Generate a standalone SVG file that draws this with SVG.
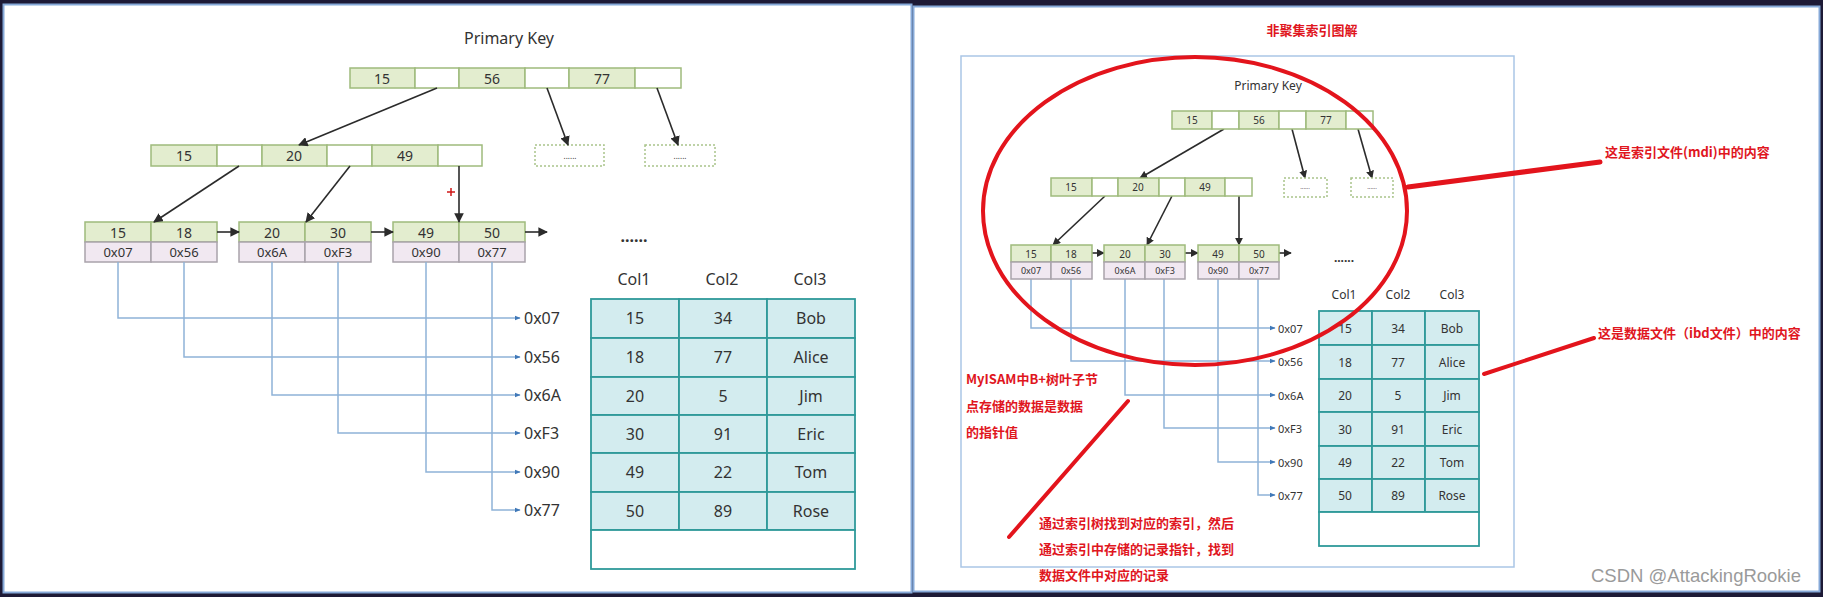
<svg xmlns="http://www.w3.org/2000/svg" width="1823" height="597" viewBox="0 0 1823 597">
<defs>
<marker id="ah" viewBox="0 0 10 10" refX="9" refY="5" markerWidth="6" markerHeight="6" orient="auto"><path d="M0,0 L10,5 L0,10 z" fill="#2b2b2b"/></marker>
<marker id="ahs" viewBox="0 0 10 10" refX="9" refY="5" markerWidth="5" markerHeight="5" orient="auto"><path d="M0,0 L10,5 L0,10 z" fill="#2b2b2b"/></marker>
<marker id="bh" viewBox="0 0 10 10" refX="9" refY="5" markerWidth="4" markerHeight="4" orient="auto"><path d="M0,1 L10,5 L0,9 z" fill="#3f78b8"/></marker>
</defs>
<style>
.k{fill:#e3edcf;stroke:#9fbb7c;stroke-width:1.5}
.p{fill:#ffffff;stroke:#9fbb7c;stroke-width:1.5}
.a{fill:#f1e8f1;stroke:#a9a3ab;stroke-width:1.5}
.d{fill:#ffffff;stroke:#a9c48a;stroke-width:1.5;stroke-dasharray:2 2}
.t{font-family:"Noto Sans","DejaVu Sans",sans-serif;fill:#333;text-anchor:middle;dominant-baseline:central}
.lab{font-family:"Noto Sans","DejaVu Sans",sans-serif;fill:#333;dominant-baseline:central}
.cell{fill:#d3ecef;stroke:#2f9a9a;stroke-width:1.8}
.blank{fill:#ffffff;stroke:#2f9a9a;stroke-width:1.8}
.arr{stroke:#2b2b2b;stroke-width:1.6;fill:none}
.bl{stroke:#8fb3d8;stroke-width:1.5;fill:none}
.red{font-family:"Noto Sans CJK SC","Noto Sans",sans-serif;fill:#e0161e;font-weight:bold}
.rl{stroke:#e3141c;stroke-linecap:round;fill:none}
</style>
<rect x="0" y="0" width="1823" height="597" fill="#1d1a36"/>
<rect x="3.5" y="4.5" width="908" height="588" fill="#ffffff" stroke="#86a9d8" stroke-width="2"/>
<rect x="913.5" y="6.5" width="906" height="585" fill="#ffffff" stroke="#86a9d8" stroke-width="2"/>

<!-- LEFT PANEL -->
<g id="left-title"><text class="t" x="509" y="38" font-size="16">Primary Key</text></g>
<g id="left-root">
<rect class="k" x="350" y="68" width="65" height="20"/><rect class="p" x="415" y="68" width="44" height="20"/>
<rect class="k" x="459" y="68" width="66" height="20"/><rect class="p" x="525" y="68" width="44" height="20"/>
<rect class="k" x="569" y="68" width="66" height="20"/><rect class="p" x="635" y="68" width="46" height="20"/>
<text class="t" x="382" y="78" font-size="14">15</text><text class="t" x="492" y="78" font-size="14">56</text><text class="t" x="602" y="78" font-size="14">77</text>
</g>
<g id="left-l2">
<rect class="k" x="151" y="145" width="66" height="21"/><rect class="p" x="217" y="145" width="45" height="21"/>
<rect class="k" x="262" y="145" width="65" height="21"/><rect class="p" x="327" y="145" width="45" height="21"/>
<rect class="k" x="372" y="145" width="66" height="21"/><rect class="p" x="438" y="145" width="44" height="21"/>
<text class="t" x="184" y="155.5" font-size="14">15</text><text class="t" x="294" y="155.5" font-size="14">20</text><text class="t" x="405" y="155.5" font-size="14">49</text>
</g>
<g id="left-dash1"><rect class="d" x="535" y="145" width="69" height="21"/><text class="t" x="570" y="155" font-size="8" fill="#999">......</text></g>
<g id="left-dash2"><rect class="d" x="645" y="145" width="70" height="21"/><text class="t" x="680" y="155" font-size="8" fill="#999">......</text></g>
<g id="left-leaf1">
<rect class="k" x="85" y="222" width="66" height="20"/><rect class="k" x="151" y="222" width="66" height="20"/>
<rect class="a" x="85" y="242" width="66" height="20"/><rect class="a" x="151" y="242" width="66" height="20"/>
<text class="t" x="118" y="232" font-size="14">15</text><text class="t" x="184" y="232" font-size="14">18</text>
<text class="t" x="118" y="252" font-size="13">0x07</text><text class="t" x="184" y="252" font-size="13">0x56</text>
</g>
<g id="left-leaf2">
<rect class="k" x="239" y="222" width="66" height="20"/><rect class="k" x="305" y="222" width="66" height="20"/>
<rect class="a" x="239" y="242" width="66" height="20"/><rect class="a" x="305" y="242" width="66" height="20"/>
<text class="t" x="272" y="232" font-size="14">20</text><text class="t" x="338" y="232" font-size="14">30</text>
<text class="t" x="272" y="252" font-size="13">0x6A</text><text class="t" x="338" y="252" font-size="13">0xF3</text>
</g>
<g id="left-leaf3">
<rect class="k" x="393" y="222" width="66" height="20"/><rect class="k" x="459" y="222" width="66" height="20"/>
<rect class="a" x="393" y="242" width="66" height="20"/><rect class="a" x="459" y="242" width="66" height="20"/>
<text class="t" x="426" y="232" font-size="14">49</text><text class="t" x="492" y="232" font-size="14">50</text>
<text class="t" x="426" y="252" font-size="13">0x90</text><text class="t" x="492" y="252" font-size="13">0x77</text>
</g>
<g id="left-more"><text class="t" x="634" y="236" font-size="16" font-weight="bold">......</text></g>
<g id="left-table">
<text class="t" x="634" y="279" font-size="16">Col1</text><text class="t" x="722" y="279" font-size="16">Col2</text><text class="t" x="810" y="279" font-size="16">Col3</text>
<rect class="cell" x="591" y="299" width="88" height="39"/><rect class="cell" x="679" y="299" width="88" height="39"/><rect class="cell" x="767" y="299" width="88" height="39"/>
<rect class="cell" x="591" y="338" width="88" height="39"/><rect class="cell" x="679" y="338" width="88" height="39"/><rect class="cell" x="767" y="338" width="88" height="39"/>
<rect class="cell" x="591" y="377" width="88" height="38"/><rect class="cell" x="679" y="377" width="88" height="38"/><rect class="cell" x="767" y="377" width="88" height="38"/>
<rect class="cell" x="591" y="415" width="88" height="38"/><rect class="cell" x="679" y="415" width="88" height="38"/><rect class="cell" x="767" y="415" width="88" height="38"/>
<rect class="cell" x="591" y="453" width="88" height="39"/><rect class="cell" x="679" y="453" width="88" height="39"/><rect class="cell" x="767" y="453" width="88" height="39"/>
<rect class="cell" x="591" y="492" width="88" height="38"/><rect class="cell" x="679" y="492" width="88" height="38"/><rect class="cell" x="767" y="492" width="88" height="38"/>
<rect class="blank" x="591" y="530" width="264" height="39"/>
<text class="t" x="635" y="318" font-size="16">15</text><text class="t" x="723" y="318" font-size="16">34</text><text class="t" x="811" y="318" font-size="16">Bob</text>
<text class="t" x="635" y="357" font-size="16">18</text><text class="t" x="723" y="357" font-size="16">77</text><text class="t" x="811" y="357" font-size="16">Alice</text>
<text class="t" x="635" y="396" font-size="16">20</text><text class="t" x="723" y="396" font-size="16">5</text><text class="t" x="811" y="396" font-size="16">Jim</text>
<text class="t" x="635" y="434" font-size="16">30</text><text class="t" x="723" y="434" font-size="16">91</text><text class="t" x="811" y="434" font-size="16">Eric</text>
<text class="t" x="635" y="472" font-size="16">49</text><text class="t" x="723" y="472" font-size="16">22</text><text class="t" x="811" y="472" font-size="16">Tom</text>
<text class="t" x="635" y="511" font-size="16">50</text><text class="t" x="723" y="511" font-size="16">89</text><text class="t" x="811" y="511" font-size="16">Rose</text>
</g>
<g id="left-addr-labels">
<text class="lab" x="524" y="318" font-size="16">0x07</text><text class="lab" x="524" y="357" font-size="16">0x56</text>
<text class="lab" x="524" y="395" font-size="16">0x6A</text><text class="lab" x="524" y="433" font-size="16">0xF3</text>
<text class="lab" x="524" y="472" font-size="16">0x90</text><text class="lab" x="524" y="510" font-size="16">0x77</text>
</g>
<g id="left-plus"><path d="M447,192 H455 M451,188 V196" stroke="#d01818" stroke-width="1.5"/></g>

<g id="connectors">
<line class="arr" x1="437" y1="88" x2="299" y2="145" marker-end="url(#ah)"/>
<line class="arr" x1="547" y1="88" x2="568" y2="145" marker-end="url(#ah)"/>
<line class="arr" x1="657" y1="88" x2="678" y2="145" marker-end="url(#ah)"/>
<line class="arr" x1="239" y1="166" x2="154" y2="222" marker-end="url(#ah)"/>
<line class="arr" x1="350" y1="166" x2="306" y2="222" marker-end="url(#ah)"/>
<line class="arr" x1="459" y1="166" x2="459" y2="222" marker-end="url(#ah)"/>
<line class="arr" x1="217" y1="232" x2="239" y2="232" marker-end="url(#ah)"/>
<line class="arr" x1="371" y1="232" x2="393" y2="232" marker-end="url(#ah)"/>
<line class="arr" x1="525" y1="232" x2="547" y2="232" marker-end="url(#ah)"/>
<path class="bl" d="M118,262 V318 H520" marker-end="url(#bh)"/>
<path class="bl" d="M184,262 V357 H520" marker-end="url(#bh)"/>
<path class="bl" d="M272,262 V395 H520" marker-end="url(#bh)"/>
<path class="bl" d="M338,262 V433 H520" marker-end="url(#bh)"/>
<path class="bl" d="M426,262 V472 H520" marker-end="url(#bh)"/>
<path class="bl" d="M492,262 V510 H520" marker-end="url(#bh)"/>

<line class="arr" x1="1224" y1="129" x2="1140" y2="178" stroke-width="1.2" marker-end="url(#ahs)"/>
<line class="arr" x1="1292" y1="129" x2="1305" y2="178" stroke-width="1.2" marker-end="url(#ahs)"/>
<line class="arr" x1="1358" y1="129" x2="1372" y2="178" stroke-width="1.2" marker-end="url(#ahs)"/>
<line class="arr" x1="1105" y1="196" x2="1053" y2="245" stroke-width="1.2" marker-end="url(#ahs)"/>
<line class="arr" x1="1172" y1="196" x2="1147" y2="245" stroke-width="1.2" marker-end="url(#ahs)"/>
<line class="arr" x1="1239" y1="196" x2="1239" y2="245" stroke-width="1.2" marker-end="url(#ahs)"/>
<line class="arr" x1="1092" y1="253" x2="1104" y2="253" stroke-width="1.2" marker-end="url(#ahs)"/>
<line class="arr" x1="1185" y1="253" x2="1198" y2="253" stroke-width="1.2" marker-end="url(#ahs)"/>
<line class="arr" x1="1279" y1="253" x2="1291" y2="253" stroke-width="1.2" marker-end="url(#ahs)"/>
<path class="bl" d="M1031,279 V328 H1275" stroke-width="1.2" marker-end="url(#bh)"/>
<path class="bl" d="M1071,279 V361 H1275" stroke-width="1.2" marker-end="url(#bh)"/>
<path class="bl" d="M1125,279 V395 H1275" stroke-width="1.2" marker-end="url(#bh)"/>
<path class="bl" d="M1164,279 V428 H1275" stroke-width="1.2" marker-end="url(#bh)"/>
<path class="bl" d="M1218,279 V462 H1275" stroke-width="1.2" marker-end="url(#bh)"/>
<path class="bl" d="M1258,279 V495 H1275" stroke-width="1.2" marker-end="url(#bh)"/>
</g>

<!-- RIGHT PANEL -->
<g id="right-title"><text class="red" x="1312" y="35" font-size="13" text-anchor="middle">非聚集索引图解</text></g>
<g id="right-frame"><rect x="961" y="56" width="553" height="511" fill="none" stroke="#aac6e6" stroke-width="1.5"/></g>
<g id="right-pk"><text class="t" x="1268" y="85" font-size="12">Primary Key</text></g>
<g id="right-root">
<rect class="k" x="1172" y="111" width="40" height="18"/><rect class="p" x="1212" y="111" width="27" height="18"/>
<rect class="k" x="1239" y="111" width="40" height="18"/><rect class="p" x="1279" y="111" width="27" height="18"/>
<rect class="k" x="1306" y="111" width="40" height="18"/><rect class="p" x="1346" y="111" width="27" height="18"/>
<text class="t" x="1192" y="120" font-size="10">15</text><text class="t" x="1259" y="120" font-size="10">56</text><text class="t" x="1326" y="120" font-size="10">77</text>
</g>
<g id="right-l2">
<rect class="k" x="1051" y="178" width="41" height="18"/><rect class="p" x="1092" y="178" width="26" height="18"/>
<rect class="k" x="1118" y="178" width="41" height="18"/><rect class="p" x="1159" y="178" width="26" height="18"/>
<rect class="k" x="1185" y="178" width="40" height="18"/><rect class="p" x="1225" y="178" width="27" height="18"/>
<text class="t" x="1071" y="187" font-size="10">15</text><text class="t" x="1138" y="187" font-size="10">20</text><text class="t" x="1205" y="187" font-size="10">49</text>
</g>
<g id="right-dash1"><rect class="d" x="1284" y="178" width="43" height="19"/><text class="t" x="1305" y="187" font-size="6" fill="#999">......</text></g>
<g id="right-dash2"><rect class="d" x="1351" y="178" width="42" height="19"/><text class="t" x="1372" y="187" font-size="6" fill="#999">......</text></g>
<g id="right-leaf1">
<rect class="k" x="1011" y="245" width="40" height="17"/><rect class="k" x="1051" y="245" width="41" height="17"/>
<rect class="a" x="1011" y="262" width="40" height="17"/><rect class="a" x="1051" y="262" width="41" height="17"/>
<text class="t" x="1031" y="253.5" font-size="10">15</text><text class="t" x="1071" y="253.5" font-size="10">18</text>
<text class="t" x="1031" y="270.5" font-size="9">0x07</text><text class="t" x="1071" y="270.5" font-size="9">0x56</text>
</g>
<g id="right-leaf2">
<rect class="k" x="1104" y="245" width="41" height="17"/><rect class="k" x="1145" y="245" width="40" height="17"/>
<rect class="a" x="1104" y="262" width="41" height="17"/><rect class="a" x="1145" y="262" width="40" height="17"/>
<text class="t" x="1125" y="253.5" font-size="10">20</text><text class="t" x="1165" y="253.5" font-size="10">30</text>
<text class="t" x="1125" y="270.5" font-size="9">0x6A</text><text class="t" x="1165" y="270.5" font-size="9">0xF3</text>
</g>
<g id="right-leaf3">
<rect class="k" x="1198" y="245" width="41" height="17"/><rect class="k" x="1239" y="245" width="40" height="17"/>
<rect class="a" x="1198" y="262" width="41" height="17"/><rect class="a" x="1239" y="262" width="40" height="17"/>
<text class="t" x="1218" y="253.5" font-size="10">49</text><text class="t" x="1259" y="253.5" font-size="10">50</text>
<text class="t" x="1218" y="270.5" font-size="9">0x90</text><text class="t" x="1259" y="270.5" font-size="9">0x77</text>
</g>
<g id="right-more"><text class="t" x="1344" y="257" font-size="12" font-weight="bold">......</text></g>
<g id="right-table">
<text class="t" x="1344" y="294" font-size="12">Col1</text><text class="t" x="1398" y="294" font-size="12">Col2</text><text class="t" x="1452" y="294" font-size="12">Col3</text>
<rect class="cell" x="1319" y="311" width="53" height="34" stroke-width="1.4"/><rect class="cell" x="1372" y="311" width="53" height="34" stroke-width="1.4"/><rect class="cell" x="1425" y="311" width="54" height="34" stroke-width="1.4"/>
<rect class="cell" x="1319" y="345" width="53" height="34" stroke-width="1.4"/><rect class="cell" x="1372" y="345" width="53" height="34" stroke-width="1.4"/><rect class="cell" x="1425" y="345" width="54" height="34" stroke-width="1.4"/>
<rect class="cell" x="1319" y="379" width="53" height="33" stroke-width="1.4"/><rect class="cell" x="1372" y="379" width="53" height="33" stroke-width="1.4"/><rect class="cell" x="1425" y="379" width="54" height="33" stroke-width="1.4"/>
<rect class="cell" x="1319" y="412" width="53" height="34" stroke-width="1.4"/><rect class="cell" x="1372" y="412" width="53" height="34" stroke-width="1.4"/><rect class="cell" x="1425" y="412" width="54" height="34" stroke-width="1.4"/>
<rect class="cell" x="1319" y="446" width="53" height="33" stroke-width="1.4"/><rect class="cell" x="1372" y="446" width="53" height="33" stroke-width="1.4"/><rect class="cell" x="1425" y="446" width="54" height="33" stroke-width="1.4"/>
<rect class="cell" x="1319" y="479" width="53" height="33" stroke-width="1.4"/><rect class="cell" x="1372" y="479" width="53" height="33" stroke-width="1.4"/><rect class="cell" x="1425" y="479" width="54" height="33" stroke-width="1.4"/>
<rect class="blank" x="1319" y="512" width="160" height="34" stroke-width="1.4"/>
<text class="t" x="1345" y="328" font-size="12">15</text><text class="t" x="1398" y="328" font-size="12">34</text><text class="t" x="1452" y="328" font-size="12">Bob</text>
<text class="t" x="1345" y="362" font-size="12">18</text><text class="t" x="1398" y="362" font-size="12">77</text><text class="t" x="1452" y="362" font-size="12">Alice</text>
<text class="t" x="1345" y="395" font-size="12">20</text><text class="t" x="1398" y="395" font-size="12">5</text><text class="t" x="1452" y="395" font-size="12">Jim</text>
<text class="t" x="1345" y="429" font-size="12">30</text><text class="t" x="1398" y="429" font-size="12">91</text><text class="t" x="1452" y="429" font-size="12">Eric</text>
<text class="t" x="1345" y="462" font-size="12">49</text><text class="t" x="1398" y="462" font-size="12">22</text><text class="t" x="1452" y="462" font-size="12">Tom</text>
<text class="t" x="1345" y="495" font-size="12">50</text><text class="t" x="1398" y="495" font-size="12">89</text><text class="t" x="1452" y="495" font-size="12">Rose</text>
</g>
<g id="right-addr-labels">
<text class="lab" x="1278" y="328" font-size="11">0x07</text><text class="lab" x="1278" y="361" font-size="11">0x56</text>
<text class="lab" x="1278" y="395" font-size="11">0x6A</text><text class="lab" x="1278" y="428" font-size="11">0xF3</text>
<text class="lab" x="1278" y="462" font-size="11">0x90</text><text class="lab" x="1278" y="495" font-size="11">0x77</text>
</g>

<g id="annotations">
<ellipse class="rl" cx="1195" cy="211" rx="212" ry="154" stroke-width="4"/>
<line class="rl" x1="1408" y1="187" x2="1600" y2="162" stroke-width="5"/>
<line class="rl" x1="1484" y1="374" x2="1594" y2="338" stroke-width="4"/>
<line class="rl" x1="1128" y1="401" x2="1009" y2="537" stroke-width="4"/>
<text class="red" x="1605" y="157" font-size="13">这是索引文件(mdi)中的内容</text>
<text class="red" x="1598" y="338" font-size="13">这是数据文件（ibd文件）中的内容</text>
<text class="red" x="966" y="384" font-size="13">MyISAM中B+树叶子节</text>
<text class="red" x="966" y="411" font-size="13">点存储的数据是数据</text>
<text class="red" x="966" y="437" font-size="13">的指针值</text>
<text class="red" x="1039" y="528" font-size="13">通过索引树找到对应的索引，然后</text>
<text class="red" x="1039" y="554" font-size="13">通过索引中存储的记录指针，找到</text>
<text class="red" x="1039" y="580" font-size="13">数据文件中对应的记录</text>
</g>
<g id="watermark"><text x="1591" y="582" font-family="'Liberation Sans',sans-serif" font-size="18.5" fill="#9a9a9a">CSDN @AttackingRookie</text></g>
</svg>
